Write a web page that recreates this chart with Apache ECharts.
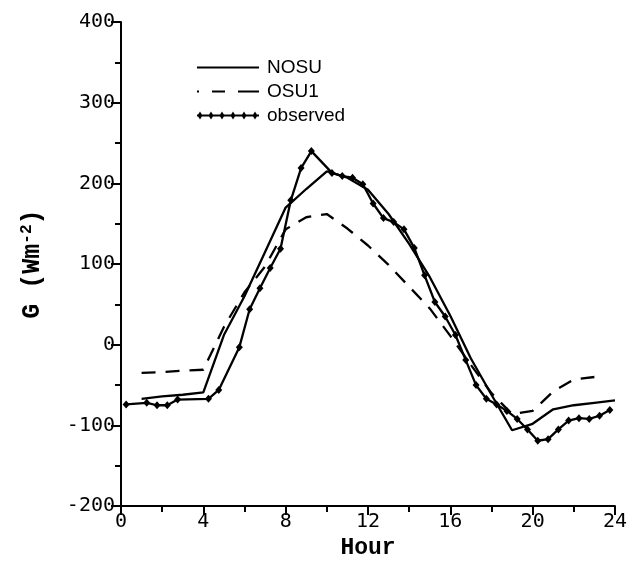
<!DOCTYPE html>
<html>
<head>
<meta charset="utf-8">
<script src="https://cdn.jsdelivr.net/npm/echarts@6/dist/echarts.min.js"></script>
<style>
html,body{margin:0;padding:0;background:#fff;}
#chart{width:630px;height:565px;}
</style>
</head>
<body>
<div id="chart"></div>
<script>
// ---- data ----
const nosuHours = [1,2,3,4,5,6,7,8,9,10,11,12,13,14,15,16,17,18,19,20,21,22,23,24];
const nosuValues = [-67,-64,-62,-59,12,60,115,170,193,215,207,192,162,125,84,36,-17,-62,-106,-98,-80,-75,-72,-69];

const osu1Hours = [1,2,3,4,5,6,7,8,9,10,11,12,13,14,15,16,17,18,19,20,21,22,23];
const osu1Values = [-35,-34,-32,-31,22,65,97,143,158,162,144,123,99,72,45,11,-25,-60,-86,-82,-58,-43,-40];

const obsHours = [0.25,1.25,1.75,2.25,2.75,4.25,4.75,5.75,6.25,6.75,7.25,7.75,8.25,8.75,9.25,
  10.25,10.75,11.25,11.75,12.25,12.75,13.25,13.75,14.25,14.75,15.25,15.75,16.25,16.75,17.25,
  17.75,18.25,18.75,19.25,19.75,20.25,20.75,21.25,21.75,22.25,22.75,23.25,23.75];
const obsValues = [-74,-72,-75,-75,-68,-67,-56,-3,44,70,95,119,179,219,240,
  213,209,207,199,175,157,152,143,120,86,53,35,12,-19,-50,
  -67,-74,-82,-92,-105,-119,-117,-105,-94,-91,-92,-88,-81];

const xTicks = {min:0, max:24, interval:4};
const yTicks = {min:-200, max:400, interval:100};

function pairs(xs, ys){ return xs.map((x,i)=>[x, ys[i]]); }

const solidIcon = 'path://M0 2.9H62V5.1H0Z M0 0H0.01V8H0Z';
const dashIcon = 'path://M0 2.9H2V5.1H0Z M15 2.9H28V5.1H15Z M41 2.9H62V5.1H41Z M0 0H0.01V8H0Z';
const obsIcon = 'path://M0 2.9H62V5.1H0Z M3 0L5.5 4L3 8L0.5 4Z M14 0L16.5 4L14 8L11.5 4Z M25 0L27.5 4L25 8L22.5 4Z M36 0L38.5 4L36 8L33.5 4Z M47 0L49.5 4L47 8L44.5 4Z M58 0L60.5 4L58 8L55.5 4Z';

const chart = echarts.init(document.getElementById('chart'), null, {renderer:'canvas'});
const tickFont = {fontFamily:'DejaVu Sans Mono', fontSize:20, color:'#000'};
chart.setOption({
  animation:false,
  backgroundColor:'#fff',
  grid:{left:121, right:13, top:22, bottom:58, containLabel:false},
  legend:{
    orient:'vertical', left:192, top:53, itemWidth:62, itemHeight:8, itemGap:5,
    textStyle:{fontFamily:'Liberation Sans', fontSize:19, color:'#000', padding:[0,0,0,3]},
    data:[
      {name:'NOSU', icon:solidIcon, itemStyle:{color:'#000', borderWidth:0}},
      {name:'OSU1', icon:dashIcon, itemStyle:{color:'#000', borderWidth:0}},
      {name:'observed', icon:obsIcon, itemStyle:{color:'#000', borderWidth:0}}
    ]
  },
  xAxis:{
    type:'value', min:xTicks.min, max:xTicks.max, interval:xTicks.interval,
    name:'Hour', nameLocation:'middle', nameGap:29,
    nameTextStyle:{fontFamily:'Liberation Mono', fontSize:23, fontWeight:'bold', color:'#000'},
    axisLine:{onZero:false, lineStyle:{color:'#000', width:2}},
    axisTick:{length:9, lineStyle:{color:'#000', width:2}},
    minorTick:{show:true, splitNumber:2, length:6, lineStyle:{color:'#000', width:2}},
    axisLabel:Object.assign({margin:6}, tickFont),
    splitLine:{show:false}
  },
  yAxis:{
    type:'value', min:yTicks.min, max:yTicks.max, interval:yTicks.interval,
    name:'{a|G (Wm}{s|-2}{a|)}', nameLocation:'middle', nameGap:74,
    nameTextStyle:{
      rich:{
        a:{fontFamily:'Liberation Mono', fontSize:25, fontWeight:'bold', color:'#000'},
        s:{fontFamily:'Liberation Mono', fontSize:16, fontWeight:'bold', color:'#000', verticalAlign:'top', padding:[0,0,12,0]}
      }
    },
    axisLine:{show:true, lineStyle:{color:'#000', width:2}},
    axisTick:{show:true, length:10, lineStyle:{color:'#000', width:2}},
    minorTick:{show:true, splitNumber:2, length:6, lineStyle:{color:'#000', width:2}},
    axisLabel:Object.assign({margin:6}, tickFont),
    splitLine:{show:false}
  },
  series:[
    {name:'NOSU', type:'line', data:pairs(nosuHours, nosuValues), symbol:'none',
     lineStyle:{color:'#000', width:2.3}, itemStyle:{color:'#000'}},
    {name:'OSU1', type:'line', data:pairs(osu1Hours, osu1Values), symbol:'none',
     lineStyle:{color:'#000', width:2.3, type:[14,10]}, itemStyle:{color:'#000'}},
    {name:'observed', type:'line', data:pairs(obsHours, obsValues), symbol:'diamond', symbolSize:[7,8],
     lineStyle:{color:'#000', width:2.3}, itemStyle:{color:'#000'}}
  ]
});
</script>
</body>
</html>
